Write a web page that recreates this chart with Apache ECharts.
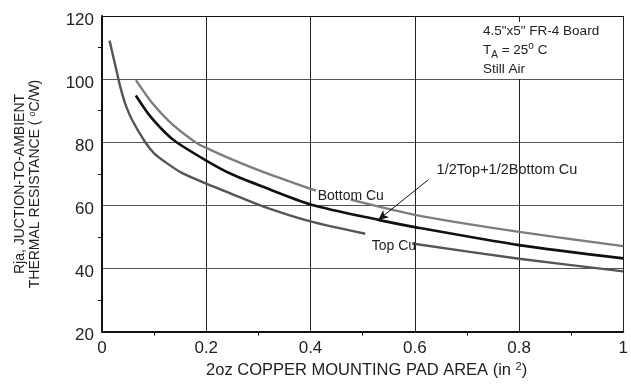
<!DOCTYPE html>
<html>
<head>
<meta charset="utf-8">
<script src="https://cdn.jsdelivr.net/npm/echarts@6/dist/echarts.min.js"></script>
<style>
  html, body { margin: 0; padding: 0; background: #fff; }
  #chart { width: 631px; height: 384px; }
</style>
</head>
<body>
<div id="chart"></div>
<script>
// Rja vs 2oz copper pad area, three curves

// Top Cu (broken where its label sits)
const topCuA = [[0.0145, 112.2], [0.024, 105.4], [0.0315, 100], [0.0366, 96.6], [0.046, 91.5],
  [0.0585, 86.8], [0.083, 80], [0.1, 76.5], [0.125, 73.3], [0.153, 70.3], [0.2, 66.9],
  [0.247, 63.75], [0.31, 59.6], [0.4, 54.9], [0.505, 51]];
const topCuB = [[0.595, 47.9], [0.8, 43.1], [1.0, 39.1]];

// Bottom Cu
const bottomCuA = [[0.065, 99.7], [0.096, 92.5], [0.134, 85.8], [0.181, 79.8], [0.2, 78.2],
  [0.247, 74.7], [0.31, 70.5], [0.4, 65.2], [0.41, 64.7]];
const bottomCuB = [[0.477, 61.8], [0.6, 57], [0.8, 51.6], [1.0, 47.1]];

// 1/2Top+1/2Bottom Cu
const halfCu = [[0.0649, 94.8], [0.09, 88.75], [0.1215, 83], [0.143, 80], [0.2, 74.2],
  [0.247, 70], [0.31, 65.8], [0.4, 60.3], [0.53, 55.4], [0.6, 53.1], [0.8, 47.4], [1.0, 43.2]];

// annotation anchors (data coords)
const topLabelAt = [0.595, 47.9];
const bottomLabelAt = [0.41, 64.4];
const halfLabelAt = [0.64, 72.3];
const arrowFrom = [0.626, 68.1];
const arrowTo = [0.53, 55.4];

const FONT = 'Liberation Sans';
const chart = echarts.init(document.getElementById('chart'));

function curve(data, color, width, extra) {
  return Object.assign({
    type: 'line', data, smooth: 0.25, symbol: 'none', silent: true,
    lineStyle: { color, width }, z: 3,
  }, extra);
}

// text tag sitting next to a point of a curve
function tag(coord, text, position, offset, size) {
  return {
    silent: true, symbol: 'circle', symbolSize: 0,
    data: [{ coord }],
    label: {
      show: true, position, distance: 1, offset: offset || [0, 0], formatter: text,
      fontFamily: FONT, fontSize: size || 14, color: '#222',
    },
  };
}

chart.setOption({
  animation: false,
  backgroundColor: '#fff',
  grid: { left: 102, top: 16, width: 530, height: 320 },
  xAxis: {
    type: 'value', min: 0, max: 1, interval: 0.2,
    axisLine: { lineStyle: { color: '#111', width: 2 } },
    axisTick: { show: false },
    minorTick: { show: true, splitNumber: 2, length: 4, lineStyle: { color: '#111', width: 1 } },
    axisLabel: {
      fontFamily: FONT, fontSize: 17, color: '#222', margin: 8,
      formatter: v => String(+v.toFixed(1)),
    },
    splitLine: { show: true, lineStyle: { color: '#222', width: 1 } },
    name: '{t|2oz COPPER MOUNTING PAD AREA (in }{sup|2}{t|)}',
    nameLocation: 'middle', nameGap: 29,
    nameTextStyle: {
      padding: [0, 0, 0, 8],
      rich: {
        t: { fontFamily: FONT, fontSize: 16.5, color: '#222', lineHeight: 18 },
        sup: { fontFamily: FONT, fontSize: 11, color: '#222', verticalAlign: 'top', lineHeight: 18 },
      },
    },
  },
  yAxis: {
    type: 'value', min: 20, max: 120, interval: 20,
    axisLine: { show: true, lineStyle: { color: '#111', width: 2 } },
    axisTick: { show: false },
    minorTick: { show: true, splitNumber: 2, length: 4, lineStyle: { color: '#111', width: 1 } },
    axisLabel: {
      fontFamily: FONT, fontSize: 17, color: '#222', margin: 8,
      verticalAlign: 'top', lineHeight: 8,
    },
    splitLine: {
      show: true,
      lineStyle: { color: ['#111', '#555', '#555', '#555', '#555', '#111'], width: 1.2 },
    },
  },
  graphic: [{
    // y axis title, two rotated lines
    type: 'text', x: 28, y: 184, rotation: Math.PI / 2, z: 10,
    style: {
      text: '{t|Rja, JUCTION-TO-AMBIENT}\n{t|THERMAL RESISTANCE ( }{sup|o}{t|C/W)}',
      align: 'center', verticalAlign: 'middle',
      rich: {
        t: { fontFamily: FONT, fontSize: 14, fill: '#222', lineHeight: 15 },
        sup: { fontFamily: FONT, fontSize: 9, fill: '#222', verticalAlign: 'top', lineHeight: 15 },
      },
    },
  }, {
    type: 'text', left: 480, top: 22, z: 10,
    style: {
      text: '4.5"x5" FR-4 Board\n{b|T}{sub|A}{b| = 25}{sup|o}{b| C}\nStill Air',
      fontFamily: FONT, fontSize: 13.5, fill: '#222', lineHeight: 19,
      backgroundColor: '#fff', padding: [0, 4, 0, 3],
      rich: {
        b: { fontFamily: FONT, fontSize: 13.5, fill: '#222', lineHeight: 19 },
        sub: { fontFamily: FONT, fontSize: 10, fill: '#222', verticalAlign: 'bottom', lineHeight: 19 },
        sup: { fontFamily: FONT, fontSize: 10, fill: '#222', verticalAlign: 'top', lineHeight: 19 },
      },
    },
  }],
  series: [
    curve(topCuA, '#555', 2.4),
    curve(topCuB, '#555', 2.4, { markPoint: tag(topLabelAt, 'Top Cu', 'left', [5, 3]) }),
    curve(bottomCuA, '#7d7d7d', 2.4, { markPoint: tag(bottomLabelAt, 'Bottom Cu', 'right', [1, 5]) }),
    curve(bottomCuB, '#7d7d7d', 2.4),
    curve(halfCu, '#111', 2.6, {
      markLine: {
        silent: true, symbol: ['none', 'arrow'], symbolSize: [7, 10],
        label: { show: false },
        lineStyle: { color: '#111', width: 1, type: 'solid' },
        data: [[{ coord: arrowFrom }, { coord: arrowTo }]],
      },
      markPoint: tag(halfLabelAt, '1/2Top+1/2Bottom Cu', 'right', [0, 3], 14.5),
    }),
  ],
});
</script>
</body>
</html>
